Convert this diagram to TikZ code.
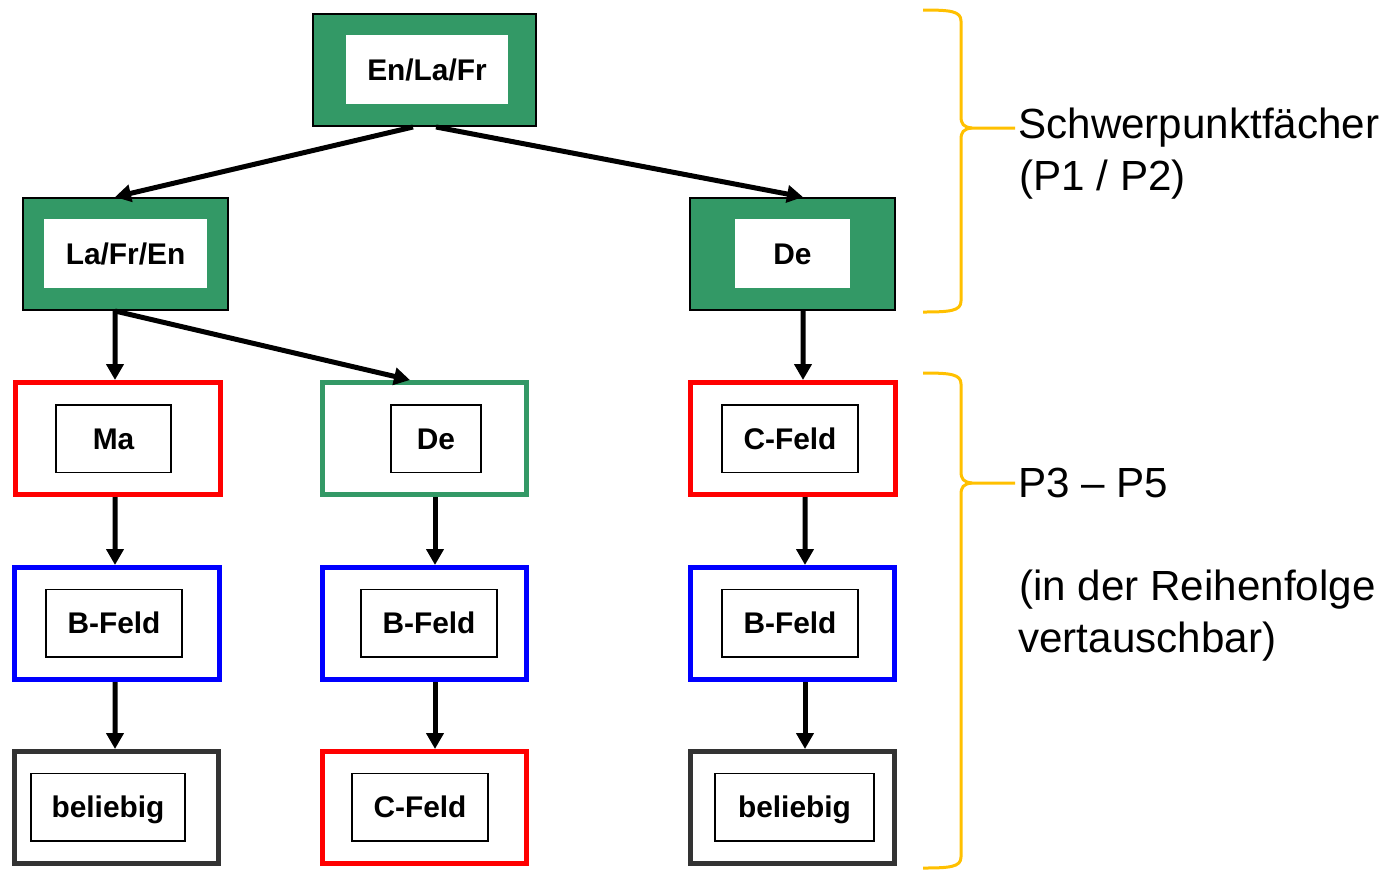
\documentclass[tikz,border=0pt]{standalone}
\usepackage{fontspec}
\setmainfont{Liberation Sans}
\usetikzlibrary{arrows.meta, positioning}
\definecolor{fachgruen}{HTML}{339966}
\definecolor{klammergelb}{HTML}{FFC000}

\begin{document}
\begin{tikzpicture}[
    x=0.02cm, y=-0.02cm,
    fach/.style={rectangle, draw=black, line width=0.04cm, fill=fachgruen,
                 minimum width=4.1cm, minimum height=2.24cm},
    fachtext/.style={rectangle, fill=white, inner sep=0pt, minimum height=1.38cm,
                     font=\fontsize{17}{20}\selectfont\bfseries, text height=12.2pt, text depth=0pt},
    feld/.style={rectangle, line width=0.1cm, minimum width=4.1cm, minimum height=2.24cm},
    feldtext/.style={rectangle, draw=black, line width=0.03cm, inner sep=0pt, minimum height=1.35cm,
                     font=\fontsize{17}{20}\selectfont\bfseries, text height=12.2pt, text depth=0pt},
    arrow/.style={-{Triangle[length=0.32cm, width=0.34cm]}, line width=0.1cm, draw=black},
    klammer/.style={draw=klammergelb, line width=0.06cm},
    notiz/.style={anchor=base west, inner sep=0pt, font=\fontsize{24}{30}\selectfont}
]
\useasboundingbox (0,0) rectangle (1396,870);

% Schwerpunktfaecher
\node[fach, minimum width=4.46cm] (enlafr) at (424.5,70) {};
\node[fachtext, minimum width=3.24cm] (enlafrT) at (427,69.5) {En/La/Fr};
\node[fach] (lafren) at (125.5,254) {};
\node[fachtext, minimum width=3.26cm] (lafrenT) at (125.5,253.5) {La/Fr/En};
\node[fach] (deA) at (792.5,254) {};
\node[fachtext, minimum width=2.3cm] (deAT) at (792.5,253.5) {De};

% P3 - P5
\node[feld, draw=red] (ma) at (118,438.5) {};
\node[feldtext, minimum width=2.31cm] (maT) at (113.5,438.5) {Ma};
\node[feld, draw=fachgruen] (deB) at (424.5,438.5) {};
\node[feldtext, minimum width=1.81cm] (deBT) at (436,438.5) {De};
\node[feld, draw=red] (cfA) at (793,438.5) {};
\node[feldtext, minimum width=2.73cm] (cfAT) at (790,438.5) {C-Feld};

\node[feld, draw=blue] (bfA) at (117,623.5) {};
\node[feldtext, minimum width=2.73cm] (bfAT) at (114,623) {B-Feld};
\node[feld, draw=blue] (bfB) at (424.5,623.5) {};
\node[feldtext, minimum width=2.73cm] (bfBT) at (429,623) {B-Feld};
\node[feld, draw=blue] (bfC) at (792.5,623.5) {};
\node[feldtext, minimum width=2.73cm] (bfCT) at (790,623) {B-Feld};

\node[feld, draw=black!80] (blA) at (116.5,807.5) {};
\node[feldtext, minimum width=3.09cm] (blAT) at (108,807) {beliebig};
\node[feld, draw=red] (cfB) at (424.5,807.5) {};
\node[feldtext, minimum width=2.73cm] (cfBT) at (420,807) {C-Feld};
\node[feld, draw=black!80] (blB) at (792.5,807.5) {};
\node[feldtext, minimum width=3.19cm] (blBT) at (794.5,807) {beliebig};

% arrows
\draw[arrow] ([xshift=-0.23cm]enlafr.south) -- ([xshift=-0.21cm]lafren.north);
\draw[arrow] ([xshift=0.23cm]enlafr.south) -- ([xshift=0.21cm]deA.north);
\draw[arrow] ([xshift=-0.21cm]lafren.south) -- ([xshift=-0.06cm]ma.north);
\draw[arrow] ([xshift=-0.21cm]lafren.south) -- ([xshift=-0.29cm]deB.north);
\draw[arrow] ([xshift=0.21cm]deA.south) -- ([xshift=0.2cm]cfA.north);
\draw[arrow] ([xshift=-0.06cm]ma.south) -- ([xshift=-0.04cm]bfA.north);
\draw[arrow] ([xshift=-0.04cm]bfA.south) -- ([xshift=-0.03cm]blA.north);
\draw[arrow] ([xshift=0.21cm]deB.south) -- ([xshift=0.21cm]bfB.north);
\draw[arrow] ([xshift=0.21cm]bfB.south) -- ([xshift=0.21cm]cfB.north);
\draw[arrow] ([xshift=0.24cm]cfA.south) -- ([xshift=0.25cm]bfC.north);
\draw[arrow] ([xshift=0.25cm]bfC.south) -- ([xshift=0.25cm]blB.north);

% braces
\draw[klammer] (923,10) .. controls (950,10) and (961,11) .. (961,21) -- (961,116)
    .. controls (961,124) and (963,127) .. (972,128) -- (1015,128);
\draw[klammer] (972,128) .. controls (963,129) and (961,132) .. (961,140) -- (961,301)
    .. controls (961,311) and (950,312) .. (923,312);
\draw[klammer] (923,373) .. controls (950,373) and (961,374) .. (961,384) -- (961,471)
    .. controls (961,479) and (963,482) .. (972,483) -- (1015,483);
\draw[klammer] (972,483) .. controls (963,484) and (961,487) .. (961,495) -- (961,857)
    .. controls (961,867) and (950,868) .. (923,868);

\node[notiz] (schwerA) at (1018,138) {Schwerpunktfächer};
\node[notiz] (schwerB) at (1019,190) {(P1 / P2)};
\node[notiz] (pruefA) at (1018,497) {P3 – P5};
\node[notiz] (pruefB) at (1019,600) {(in der Reihenfolge};
\node[notiz] (pruefC) at (1018,652) {vertauschbar)};

\end{tikzpicture}
\end{document}
